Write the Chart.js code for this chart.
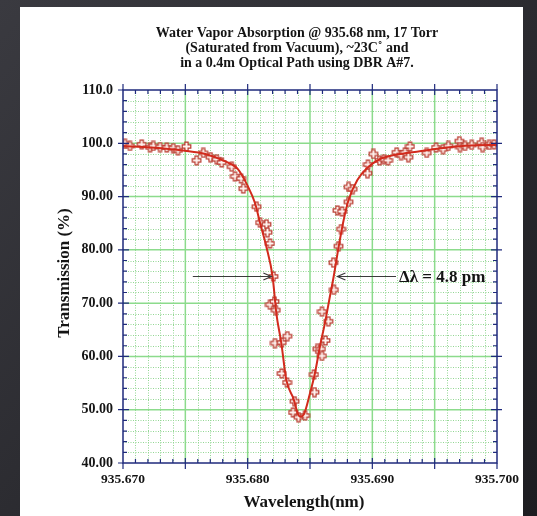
<!DOCTYPE html>
<html>
<head>
<meta charset="utf-8">
<script src="https://cdn.jsdelivr.net/npm/chart.js@4.4.0/dist/chart.umd.min.js"></script>
<style>
  html, body { margin: 0; padding: 0; background: #2a2a2e; }
  canvas { display: block; }
</style>
</head>
<body>
<canvas id="waterChart" width="537" height="516"></canvas>
<script>
//Fitted curve: wavelength (nm) and transmission (%)
const fitWavelength = [935.6700, 935.6722, 935.6750, 935.6766, 935.6782, 935.6792, 935.6800, 935.6806, 935.6810, 935.6815,
  935.6820, 935.6823, 935.6827, 935.6831, 935.6837, 935.6840, 935.6842, 935.6845, 935.6850, 935.6854,
  935.6858, 935.6862, 935.6866, 935.6869, 935.6873, 935.6877, 935.6881, 935.6888, 935.6896, 935.6906,
  935.6920, 935.6938, 935.6960, 935.6978, 935.7000];
const fitTransmission = [99.5, 99.2, 98.6, 98.0, 96.6, 95.2, 92.0, 88.7, 85.0, 80.6,
  75.0, 68.1, 62.5, 55.6, 51.9, 49.4, 48.7, 49.1, 53.1, 56.9,
  61.9, 66.3, 71.3, 75.0, 80.6, 85.6, 89.4, 93.1, 95.4, 97.0,
  97.9, 98.5, 99.2, 99.6, 99.7];

//Measured points
const measWavelength = [935.67016, 935.67056, 935.67150, 935.67217, 935.67243, 935.67297, 935.67351, 935.67403, 935.67441, 935.67509,
  935.67591, 935.67644, 935.67702, 935.67752, 935.67792, 935.67872, 935.67898, 935.67947, 935.67965, 935.68071,
  935.68099, 935.68151, 935.68159, 935.68179, 935.68206, 935.68179, 935.68215, 935.68226, 935.68219, 935.68273,
  935.68318, 935.68273, 935.68316, 935.68376, 935.68364, 935.68408, 935.68460,
  935.68536, 935.68532, 935.68559, 935.68588, 935.68596, 935.68624, 935.68647, 935.68596, 935.68692, 935.68688,
  935.68729, 935.68749, 935.68720, 935.68757, 935.68809, 935.68809, 935.68842, 935.68961, 935.68965, 935.69008,
  935.69057, 935.69094, 935.69126, 935.69195, 935.69230, 935.69262, 935.69289, 935.69302, 935.69436, 935.69511,
  935.69567, 935.69609, 935.69698, 935.69703, 935.69743, 935.69797, 935.69877, 935.69885, 935.69938, 935.69976];
const measTransmission = [99.9, 99.5, 99.8, 99.25, 99.5, 99.3, 99.2, 99.1, 98.7, 99.4,
  96.8, 98.2, 97.4, 97.0, 96.4, 95.6, 93.8, 93.4, 91.5, 88.1,
  85.1, 84.8, 83.3, 81.2, 75.0, 69.7, 70.3, 68.7, 62.5, 62.6,
  63.8, 56.8, 55.1, 51.6, 49.5, 48.6, 48.9,
  53.3, 56.6, 61.4, 61.4, 60.1, 63.0, 66.6, 68.4, 72.5, 77.6,
  80.7, 83.9, 87.4, 87.2, 89.0, 91.8, 91.4, 94.4, 96.0, 98.0,
  96.8, 97.0, 96.8, 98.3, 97.8, 98.3, 97.4, 99.4, 98.2, 99.2,
  98.9, 99.5, 100.4, 99.3, 99.5, 99.7, 100.1, 99.3, 99.7, 99.8];

const xTickValues = [935.670, 935.680, 935.690, 935.700];
const yTickValues = [40, 50, 60, 70, 80, 90, 100, 110];

const titleLines = ['Water Vapor Absorption @ 935.68 nm, 17 Torr',
  '(Saturated from Vacuum), ~23C\u02da and',
  'in a 0.4m Optical Path using DBR A#7.'];
const xTitle = 'Wavelength(nm)';
const yTitle = 'Transmission (%)';

//Half width markers
const arrowLevel = 75;
const leftArrow = [935.6756, 935.6819];
const rightArrow = [935.6919, 935.6872];
const widthLabel = '\u0394\u03bb = 4.8 pm';

const SERIF = '"Liberation Serif", "DejaVu Serif", serif';
const NAVY = '#1f2a7c';

//Hollow plus marker
function plusMarker() {
  const c = document.createElement('canvas');
  c.width = 11; c.height = 11;
  const g = c.getContext('2d');
  const m = 5.5, w = 1.6, L = 4.3;
  g.beginPath();
  g.moveTo(m - w, m - L); g.lineTo(m + w, m - L); g.lineTo(m + w, m - w);
  g.lineTo(m + L, m - w); g.lineTo(m + L, m + w); g.lineTo(m + w, m + w);
  g.lineTo(m + w, m + L); g.lineTo(m - w, m + L); g.lineTo(m - w, m + w);
  g.lineTo(m - L, m + w); g.lineTo(m - L, m - w); g.lineTo(m - w, m - w);
  g.closePath();
  g.fillStyle = '#fff3ef';
  g.fill();
  g.strokeStyle = '#b83a2e';
  g.lineWidth = 1.2;
  g.stroke();
  return c;
}

const decor = {
  id: 'decor',
  beforeDraw(chart) {
    const ctx = chart.ctx;
    ctx.save();
    const bg = ctx.createLinearGradient(0, 0, 537, 516);
    bg.addColorStop(0, '#3a3a40');
    bg.addColorStop(1, '#1d1d21');
    ctx.fillStyle = bg;
    ctx.fillRect(0, 0, 537, 516);
    ctx.fillStyle = '#ffffff';
    ctx.fillRect(20, 7, 503, 509);
    ctx.restore();
  },
  beforeDatasetsDraw(chart) {
    const {ctx, chartArea: a, scales: {x, y}} = chart;
    ctx.save();
    //minor dotted grid
    ctx.strokeStyle = '#93d693';
    ctx.lineWidth = 1;
    ctx.setLineDash([1, 1.5]);
    for (let i = 1; i < 30; i++) {
      if (i % 5 === 0) continue;
      const px = Math.round(x.getPixelForValue(935.670 + i * 0.001)) + 0.5;
      ctx.beginPath(); ctx.moveTo(px, a.top); ctx.lineTo(px, a.bottom); ctx.stroke();
    }
    for (let v = 42; v < 110; v += 2) {
      if (v % 10 === 0) continue;
      const py = Math.round(y.getPixelForValue(v)) + 0.5;
      ctx.beginPath(); ctx.moveTo(a.left, py); ctx.lineTo(a.right, py); ctx.stroke();
    }
    //major grid
    ctx.setLineDash([]);
    ctx.strokeStyle = '#8cdb8c';
    ctx.lineWidth = 1.5;
    for (let i = 5; i < 30; i += 5) {
      const px = x.getPixelForValue(935.670 + i * 0.001);
      ctx.beginPath(); ctx.moveTo(px, a.top); ctx.lineTo(px, a.bottom); ctx.stroke();
    }
    for (let v = 50; v < 110; v += 10) {
      const py = y.getPixelForValue(v);
      ctx.beginPath(); ctx.moveTo(a.left, py); ctx.lineTo(a.right, py); ctx.stroke();
    }
    ctx.restore();
  },
  afterDatasetsDraw(chart) {
    const {ctx, chartArea: a, scales: {x, y}} = chart;
    ctx.save();
    ctx.strokeStyle = NAVY;
    ctx.lineWidth = 1.5;
    ctx.strokeRect(a.left, a.top, a.right - a.left, a.bottom - a.top);
    ctx.lineWidth = 1.2;
    ctx.beginPath();
    for (let i = 1; i < 30; i++) {
      const px = x.getPixelForValue(935.670 + i * 0.001);
      if (i % 5 === 0) {
        ctx.moveTo(px, a.bottom - 5); ctx.lineTo(px, a.bottom + 6);
        ctx.moveTo(px, a.top + 5); ctx.lineTo(px, a.top - 6);
      } else {
        ctx.moveTo(px, a.bottom - 4); ctx.lineTo(px, a.bottom);
        ctx.moveTo(px, a.top + 4); ctx.lineTo(px, a.top);
      }
    }
    for (let v = 42; v < 110; v += 2) {
      const py = y.getPixelForValue(v);
      if (v % 10 === 0) {
        ctx.moveTo(a.left - 5, py); ctx.lineTo(a.left + 6, py);
        ctx.moveTo(a.right + 5, py); ctx.lineTo(a.right - 6, py);
      } else {
        ctx.moveTo(a.left, py); ctx.lineTo(a.left + 4, py);
        ctx.moveTo(a.right, py); ctx.lineTo(a.right - 4, py);
      }
    }
    //corner ticks
    ctx.moveTo(a.left - 5, a.top); ctx.lineTo(a.left, a.top);
    ctx.moveTo(a.left - 5, a.bottom); ctx.lineTo(a.left, a.bottom);
    ctx.moveTo(a.left, a.bottom); ctx.lineTo(a.left, a.bottom + 6);
    ctx.moveTo(a.right, a.bottom); ctx.lineTo(a.right, a.bottom + 6);
    ctx.moveTo(a.right, a.top); ctx.lineTo(a.right, a.top - 6);
    ctx.moveTo(a.left, a.top); ctx.lineTo(a.left, a.top - 6);
    ctx.stroke();
    ctx.restore();
  },
  afterDraw(chart) {
    const {ctx, scales: {x, y}} = chart;
    ctx.save();
    ctx.fillStyle = '#141414';
    ctx.textAlign = 'center';
    ctx.textBaseline = 'middle';
    ctx.font = 'bold 14px ' + SERIF;
    titleLines.forEach((t, i) => ctx.fillText(t, 297, 33 + i * 15));
    ctx.font = 'bold 17px ' + SERIF;
    ctx.fillText(xTitle, 304, 503);
    ctx.save();
    ctx.translate(65, 273);
    ctx.rotate(-Math.PI / 2);
    ctx.fillText(yTitle, 0, 0);
    ctx.restore();

    //half width arrows
    const py = y.getPixelForValue(arrowLevel);
    ctx.strokeStyle = '#3a3a3a';
    ctx.lineWidth = 1.2;
    [leftArrow, rightArrow].forEach(arr => {
      const x0 = x.getPixelForValue(arr[0]);
      const x1 = x.getPixelForValue(arr[1]);
      const d = Math.sign(x1 - x0);
      ctx.beginPath();
      ctx.moveTo(x0, py); ctx.lineTo(x1, py);
      ctx.moveTo(x1 - d * 8, py - 3.5); ctx.lineTo(x1, py); ctx.lineTo(x1 - d * 8, py + 3.5);
      ctx.stroke();
    });
    ctx.textAlign = 'left';
    ctx.font = 'bold 17px ' + SERIF;
    ctx.fillText(widthLabel, x.getPixelForValue(rightArrow[0]) + 3, py + 1);
    ctx.restore();
  }
};

const fitData = fitWavelength.map((w, i) => ({x: w, y: fitTransmission[i]}));
const measData = measWavelength.map((w, i) => ({x: w, y: measTransmission[i]}));

new Chart('waterChart', {
  type: 'scatter',
  data: {
    datasets: [{
      data: fitData,
      showLine: true,
      borderColor: '#d22a1c',
      borderWidth: 2,
      pointRadius: 0,
      cubicInterpolationMode: 'monotone',
      order: 0
    }, {
      data: measData,
      showLine: false,
      pointStyle: plusMarker(),
      pointRadius: 5,
      order: 1
    }]
  },
  options: {
    responsive: false,
    animation: false,
    devicePixelRatio: 1,
    layout: {padding: {top: 90, right: 40, bottom: 0, left: 0}},
    plugins: {legend: {display: false}, tooltip: {enabled: false}},
    scales: {
      x: {
        type: 'linear',
        min: 935.670,
        max: 935.700,
        afterBuildTicks: s => { s.ticks = xTickValues.map(v => ({value: v})); },
        afterFit: s => { s.height = 53; },
        grid: {display: false, drawTicks: false},
        border: {display: false},
        ticks: {
          font: {family: SERIF, size: 13.5, weight: 'bold'}, color: '#141414', padding: 8, maxRotation: 0, autoSkip: false,
          callback: v => v.toFixed(3)
        }
      },
      y: {
        min: 40,
        max: 110,
        afterBuildTicks: s => { s.ticks = yTickValues.map(v => ({value: v})); },
        afterFit: s => { s.width = 123; },
        grid: {display: false, drawTicks: false},
        border: {display: false},
        ticks: {
          font: {family: SERIF, size: 14, weight: 'bold'}, color: '#141414', padding: 10,
          callback: v => v >= 100 ? v.toFixed(1) : v.toFixed(2)
        }
      }
    }
  },
  plugins: [decor]
});
</script>
</body>
</html>
